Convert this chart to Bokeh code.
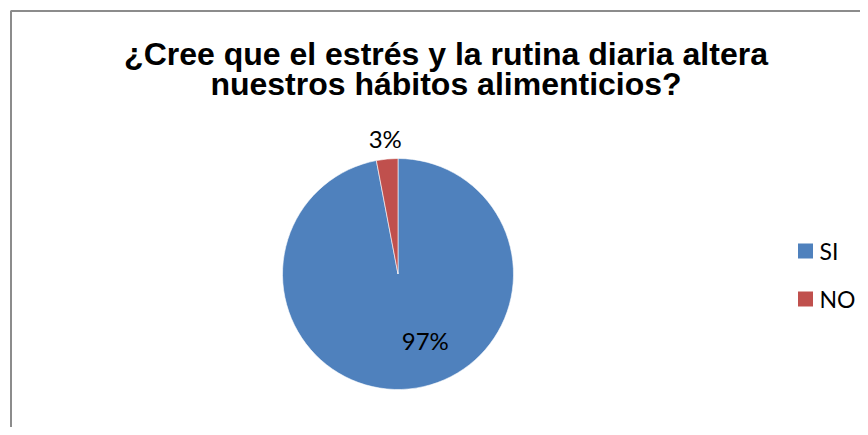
import math
from bokeh.plotting import figure
from bokeh.models import Range1d
from bokeh.core.properties import value
from bokeh.embed import file_html
from bokeh.resources import INLINE

# ---- data ----
categories = ["SI", "NO"]
values = [97, 3]
colors = ["#4F81BD", "#C0504D"]
title_lines = ["¿Cree que el estrés y la rutina diaria altera",
               "nuestros hábitos alimenticios?"]

W, H = 860, 427
p = figure(width=W, height=H, output_backend="svg", toolbar_location=None,
           x_range=Range1d(0, W), y_range=Range1d(0, H),
           min_border=0)
p.axis.visible = False
p.grid.visible = False
p.outline_line_color = None
p.background_fill_color = "white"
p.border_fill_color = "white"

def Y(py):  # screen y (top-down) -> data y
    return H - py

# chart border (partly off-page, like the reference crop)
p.quad(left=[10.5], right=[900], top=[Y(10.5)], bottom=[-50],
       fill_color=None, line_color="#8c8c8c", line_width=2)

# title
for i, t in enumerate(title_lines):
    p.text(x=[445.5], y=[Y(53 + 30 * i)], text=[t], text_align="center",
           text_baseline="middle", text_font=value("Liberation Sans"),
           text_font_style="bold", text_font_size="32px", text_color="black")

# pie
cx, cy, r = 397.5, Y(273.5), 115.5
total = sum(values)
start = math.pi / 2
starts, ends, mids = [], [], []
for v in values:
    sweep = 2 * math.pi * v / total
    end = start - sweep
    starts.append(start)
    ends.append(end)
    mids.append((start + end) / 2)
    start = end

p.wedge(x=[cx] * len(values), y=[cy] * len(values), radius=r,
        start_angle=starts, end_angle=ends, direction="clock",
        fill_color=colors, line_color="white", line_width=0.6)

# data labels
label_factors = [0.58, 1.175]
label_dx = [21, 0]
for v, m, f, dx in zip(values, mids, label_factors, label_dx):
    lx = cx + r * f * math.cos(m)
    ly = cy + r * f * math.sin(m)
    p.text(x=[lx], y=[ly], text=[f"{v}%"], x_offset=dx,
           text_align="center", text_baseline="middle",
           text_font=value("Lato"), text_font_size="24px", text_color="black")

# legend
leg_y = [250.5, 298.5]
for c, name, ly in zip(colors, categories, leg_y):
    p.rect(x=[805], y=[Y(ly)], width=15, height=15, fill_color=c, line_color=None)
    p.text(x=[819], y=[Y(ly - 0.5)], text=[name], text_align="left",
           text_baseline="middle", text_font=value("Lato"),
           text_font_size="23px", text_color="black")

open("out.html", "w").write(file_html(p, INLINE))
